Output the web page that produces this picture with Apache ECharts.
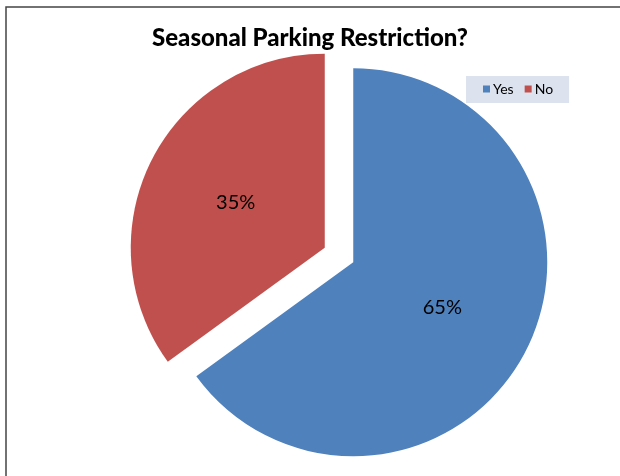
<!DOCTYPE html>
<html>
<head>
<meta charset="utf-8">
<script src="https://cdn.jsdelivr.net/npm/echarts@6/dist/echarts.min.js"></script>
<style>
  html, body { margin: 0; padding: 0; background: #fff; }
  #chart { width: 620px; height: 476px; }
</style>
</head>
<body>
<div id="chart"></div>
<script>
// Survey answers and their shares (percent)
const categories = ['Yes', 'No'];
const shares = [65, 35];
const colors = ['#4F81BD', '#C0504D'];

const chart = echarts.init(document.getElementById('chart'), null, { renderer: 'canvas' });

const pieData = categories.map((name, i) => ({
  name: name,
  value: shares[i],
  selected: true,
  itemStyle: { color: colors[i] }
}));

chart.setOption({
  animation: false,
  backgroundColor: '#ffffff',
  title: {
    text: 'Seasonal Parking Restriction?',
    left: 'center',
    top: 21,
    textStyle: {
      fontFamily: 'Lato',
      fontWeight: 900,
      fontSize: 24,
      color: '#000'
    }
  },
  legend: {
    data: categories,
    left: 466,
    top: 76,
    padding: [6, 16, 7, 17],
    backgroundColor: '#DCE3EE',
    icon: 'rect',
    itemWidth: 7,
    itemHeight: 7,
    itemGap: 11,
    selectedMode: false,
    textStyle: { fontFamily: 'Lato', fontSize: 14, color: '#000', padding: [0, 0, 0, -2] }
  },
  graphic: [{
    type: 'rect',
    shape: { x: 6, y: 7, width: 700, height: 600 },
    style: { fill: 'none', stroke: '#444', lineWidth: 1.5 },
    silent: true,
    z: 100
  }],
  series: [{
    type: 'pie',
    center: [339, 255],
    radius: [0, 194],
    startAngle: 90,
    clockwise: true,
    selectedMode: 'multiple',
    selectedOffset: 16,
    avoidLabelOverlap: false,
    label: {
      show: true,
      position: 'inside',
      formatter: '{c}%',
      fontFamily: 'Lato',
      fontSize: 20,
      color: '#000'
    },
    labelLine: { show: false },
    emphasis: { disabled: true },
    select: { itemStyle: {} },
    itemStyle: { borderWidth: 0 },
    data: pieData
  }]
});
</script>
</body>
</html>
